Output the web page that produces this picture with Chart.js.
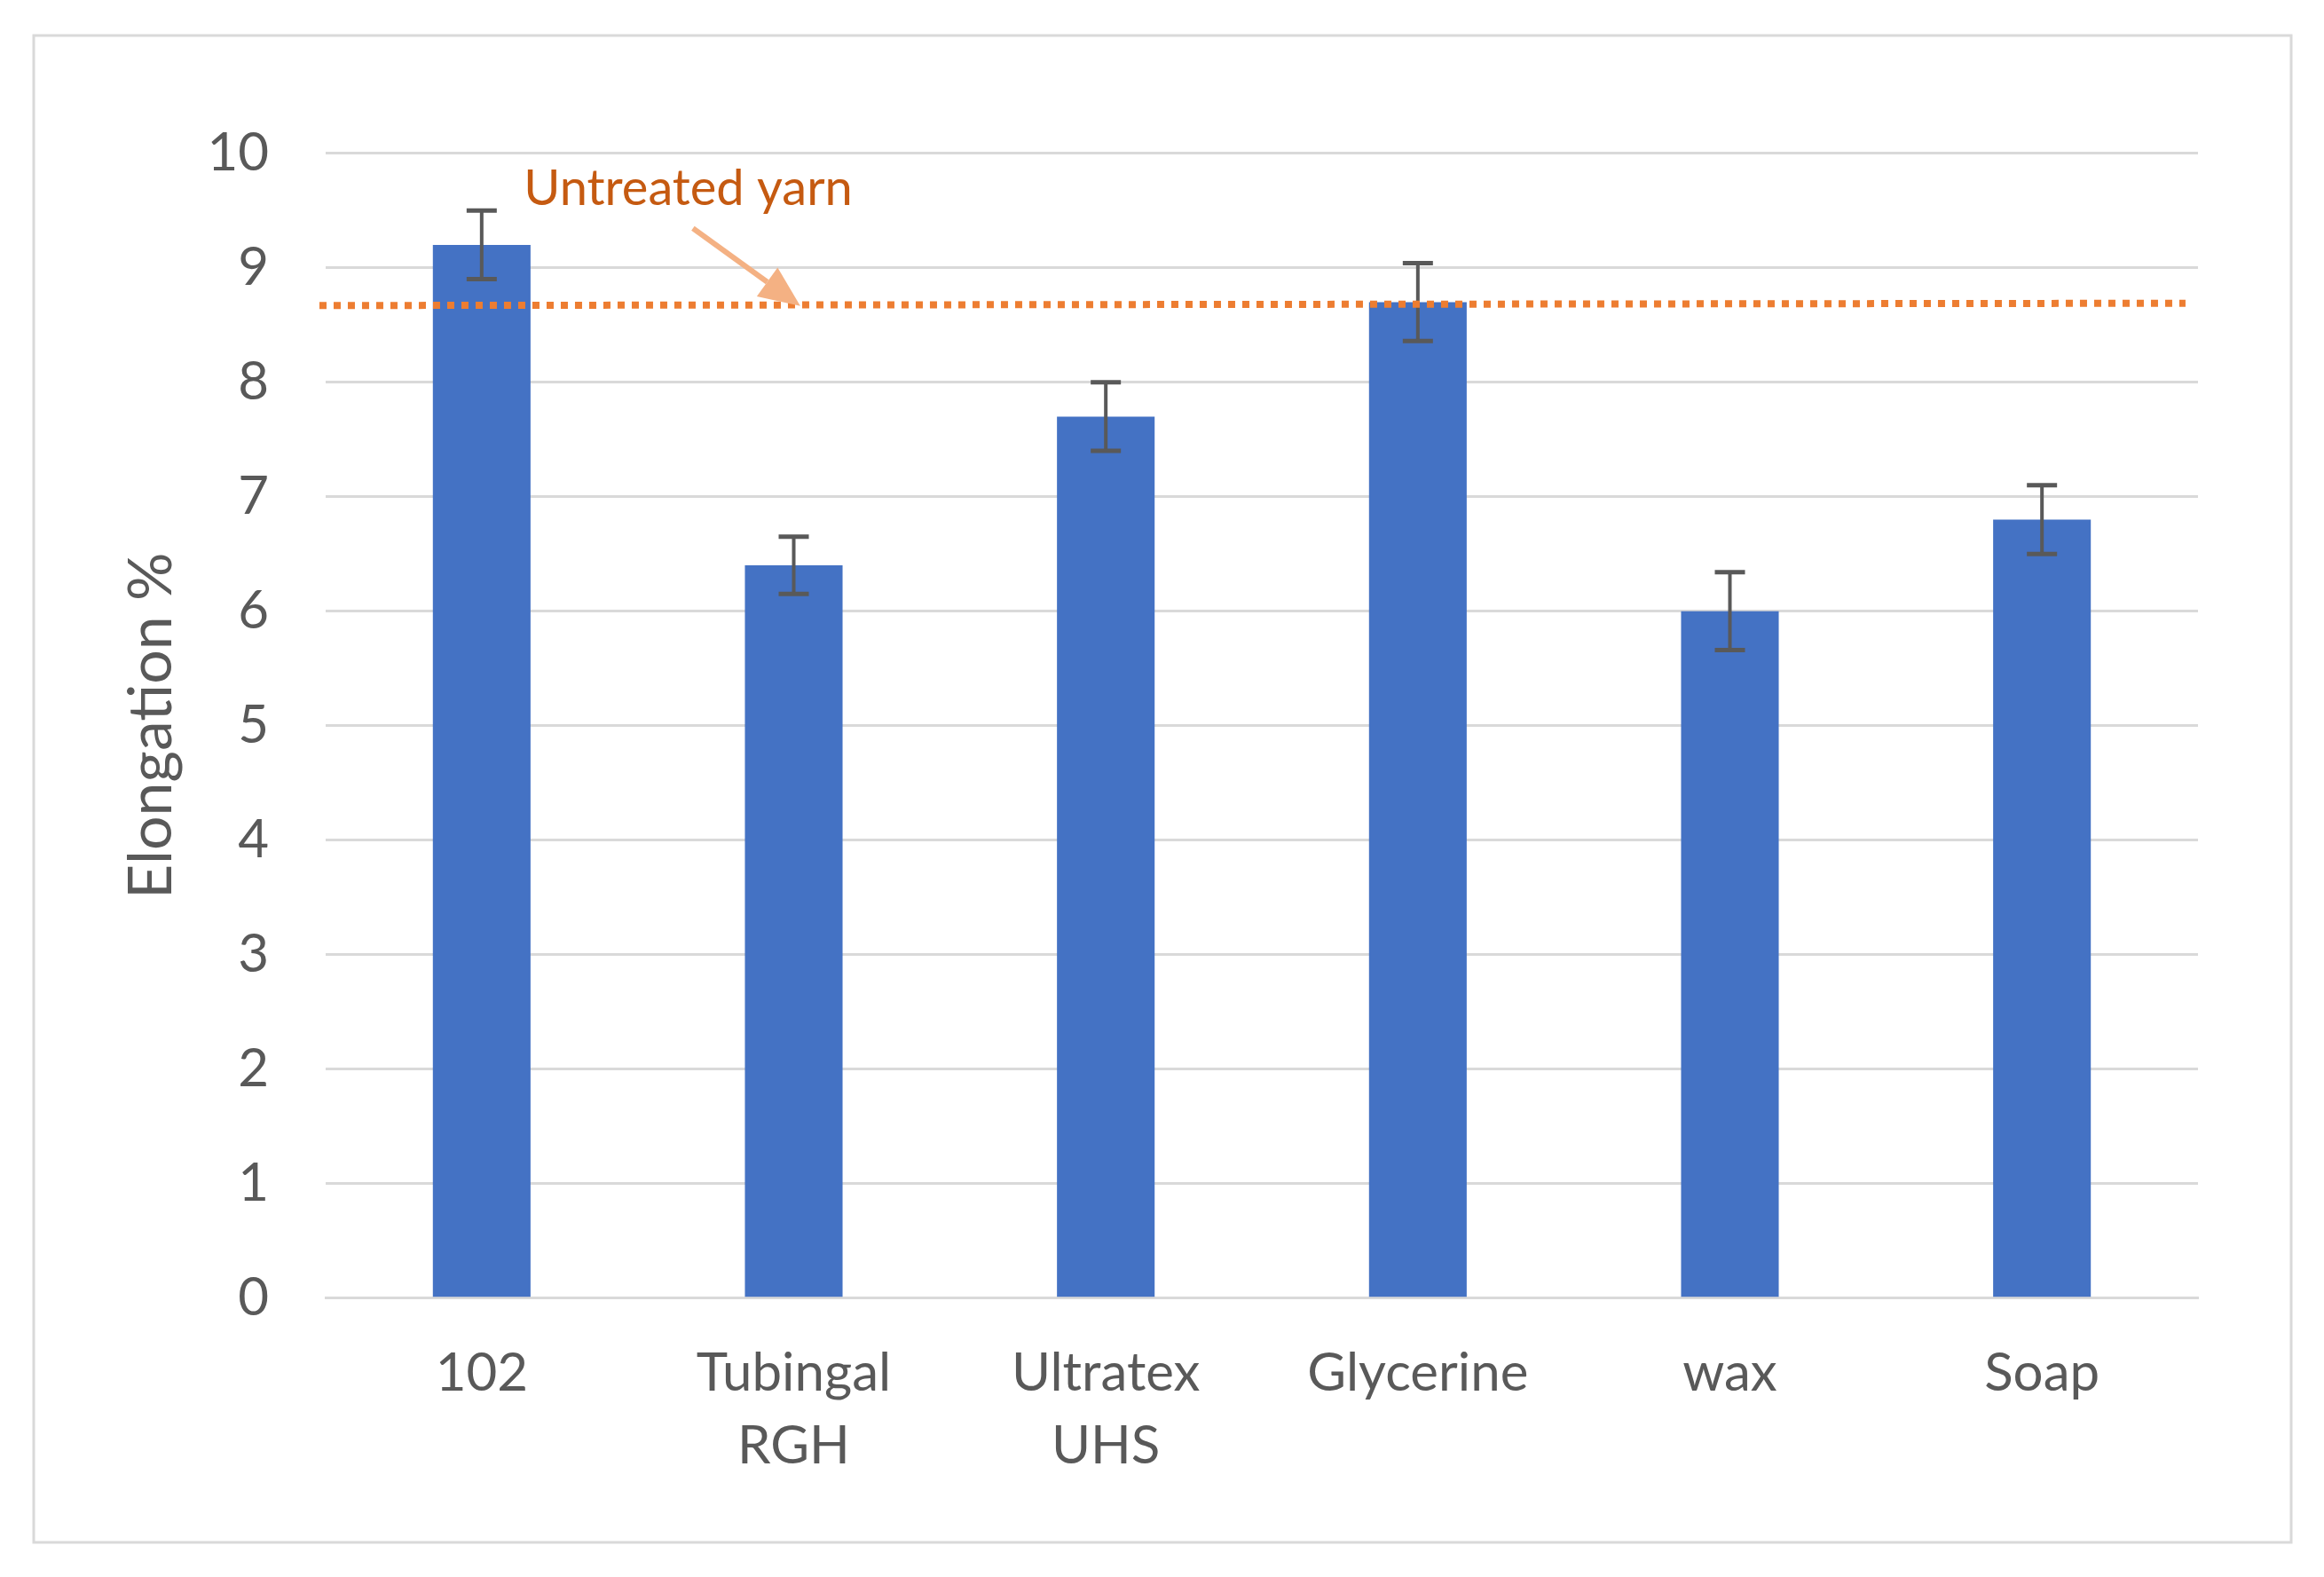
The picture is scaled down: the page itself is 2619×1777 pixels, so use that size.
<!DOCTYPE html>
<html>
<head>
<meta charset="utf-8">
<script src="https://cdn.jsdelivr.net/npm/chart.js@4.4.1/dist/chart.umd.min.js"></script>
<style>
  html, body { margin: 0; padding: 0; background: #ffffff; }
  #wrap { width: 2619px; height: 1777px; }
</style>
</head>
<body>
<div id="wrap"><canvas id="c" width="2619" height="1777"></canvas></div>
<script>
// ---- data ----
const categories = ["102", ["Tubingal", "RGH"], ["Ultratex", "UHS"], "Glycerine", "wax", "Soap"];
const elongation = [9.2, 6.4, 7.7, 8.7, 6.0, 6.8];
const errors = [0.30, 0.25, 0.30, 0.34, 0.34, 0.30];
const untreatedLineX = [-0.02, 5.96];
const untreatedLineY = [8.67, 8.69];
const yTicks = [0, 1, 2, 3, 4, 5, 6, 7, 8, 9, 10];
const yTitle = "Elongation %";
const annotationText = "Untreated yarn";

const FONT = "Lato, 'Open Sans', sans-serif";
const TXT = "#595959";

const errorBarPlugin = {
  id: 'errorBars',
  afterDatasetDraw(chart, args) {
    if (args.index !== 0) return;
    const ctx = chart.ctx;
    const ys = chart.scales.y;
    const meta = chart.getDatasetMeta(0);
    ctx.save();
    ctx.strokeStyle = '#595959';
    meta.data.forEach((bar, i) => {
      const v = elongation[i], e = errors[i];
      const yT = ys.getPixelForValue(v + e);
      const yB = ys.getPixelForValue(v - e);
      ctx.lineWidth = 4;
      ctx.beginPath();
      ctx.moveTo(bar.x, yT); ctx.lineTo(bar.x, yB);
      ctx.stroke();
      ctx.lineWidth = 5;
      ctx.beginPath();
      ctx.moveTo(bar.x - 17, yT); ctx.lineTo(bar.x + 17, yT);
      ctx.moveTo(bar.x - 17, yB); ctx.lineTo(bar.x + 17, yB);
      ctx.stroke();
    });
    ctx.restore();
  }
};

const framePlugin = {
  id: 'frame',
  beforeDraw(chart) {
    const ctx = chart.ctx;
    ctx.save();
    ctx.fillStyle = '#ffffff';
    ctx.fillRect(0, 0, chart.width, chart.height);
    ctx.strokeStyle = '#D9D9D9';
    ctx.lineWidth = 3;
    ctx.strokeRect(38, 40, 2544, 1698);
    ctx.restore();
  },
  afterDraw(chart) {
    const ctx = chart.ctx;
    const xs = chart.scales.xLine, ys = chart.scales.y;
    ctx.save();
    // annotation text
    ctx.fillStyle = '#C55A11';
    ctx.font = "56px " + FONT;
    ctx.textBaseline = 'alphabetic';
    ctx.textAlign = 'left';
    ctx.fillText(annotationText, xs.getPixelForValue(0.635), ys.getPixelForValue(9.548));
    // arrow
    const x1 = xs.getPixelForValue(1.177), y1 = ys.getPixelForValue(9.345);
    const x2 = xs.getPixelForValue(1.521), y2 = ys.getPixelForValue(8.667);
    const ang = Math.atan2(y2 - y1, x2 - x1);
    const hl = 46, hw = 20;
    const bx = x2 - hl * Math.cos(ang), by = y2 - hl * Math.sin(ang);
    ctx.strokeStyle = '#F4B183';
    ctx.fillStyle = '#F4B183';
    ctx.lineWidth = 6;
    ctx.beginPath();
    ctx.moveTo(x1, y1); ctx.lineTo(bx, by);
    ctx.stroke();
    ctx.beginPath();
    ctx.moveTo(x2, y2);
    ctx.lineTo(bx + hw * Math.sin(ang), by - hw * Math.cos(ang));
    ctx.lineTo(bx - hw * Math.sin(ang), by + hw * Math.cos(ang));
    ctx.closePath();
    ctx.fill();
    ctx.restore();
  }
};

const lineData = untreatedLineX.map((x, i) => ({ x: x, y: untreatedLineY[i] }));

new Chart(document.getElementById('c'), {
  data: {
    labels: categories,
    datasets: [
      {
        type: 'bar',
        data: elongation,
        backgroundColor: '#4472C4',
        borderWidth: 0,
        grouped: false,
        barPercentage: 1,
        categoryPercentage: 0.313,
        xAxisID: 'x',
        yAxisID: 'y',
        order: 2
      },
      {
        type: 'line',
        data: lineData,
        xAxisID: 'xLine',
        yAxisID: 'y',
        borderColor: '#ED7D31',
        borderWidth: 8,
        borderDash: [8, 8],
        pointRadius: 0,
        fill: false,
        clip: false,
        order: 1
      }
    ]
  },
  options: {
    responsive: false,
    animation: false,
    devicePixelRatio: 1,
    layout: { padding: { left: 0, right: 142, top: 172.7, bottom: 114.3 } },
    plugins: { legend: { display: false }, tooltip: { enabled: false } },
    scales: {
      x: {
        type: 'category',
        offset: true,
        grid: { display: false, drawTicks: false },
        border: { display: true, color: '#D9D9D9', width: 3 },
        ticks: {
          color: TXT,
          font: { family: FONT, size: 60, lineHeight: 1.37 },
          padding: 44,
          maxRotation: 0,
          minRotation: 0,
          autoSkip: false
        },
        afterFit(scale) { scale.height = 200; }
      },
      xLine: {
        type: 'linear',
        display: false,
        min: 0,
        max: 6
      },
      y: {
        type: 'linear',
        min: 0,
        max: 10,
        afterBuildTicks(scale) { scale.ticks = yTicks.map(v => ({ value: v })); },
        grid: { color: '#D9D9D9', lineWidth: 3, drawTicks: false },
        border: { display: false },
        ticks: {
          color: TXT,
          font: { family: FONT, size: 60 },
          padding: 64
        },
        title: {
          display: true,
          text: yTitle,
          color: TXT,
          font: { family: FONT, size: 68, lineHeight: 1.2 },
          padding: { top: 130, bottom: 0 }
        },
        afterFit(scale) { scale.width = 367; }
      }
    }
  },
  plugins: [framePlugin, errorBarPlugin]
});
</script>
</body>
</html>
